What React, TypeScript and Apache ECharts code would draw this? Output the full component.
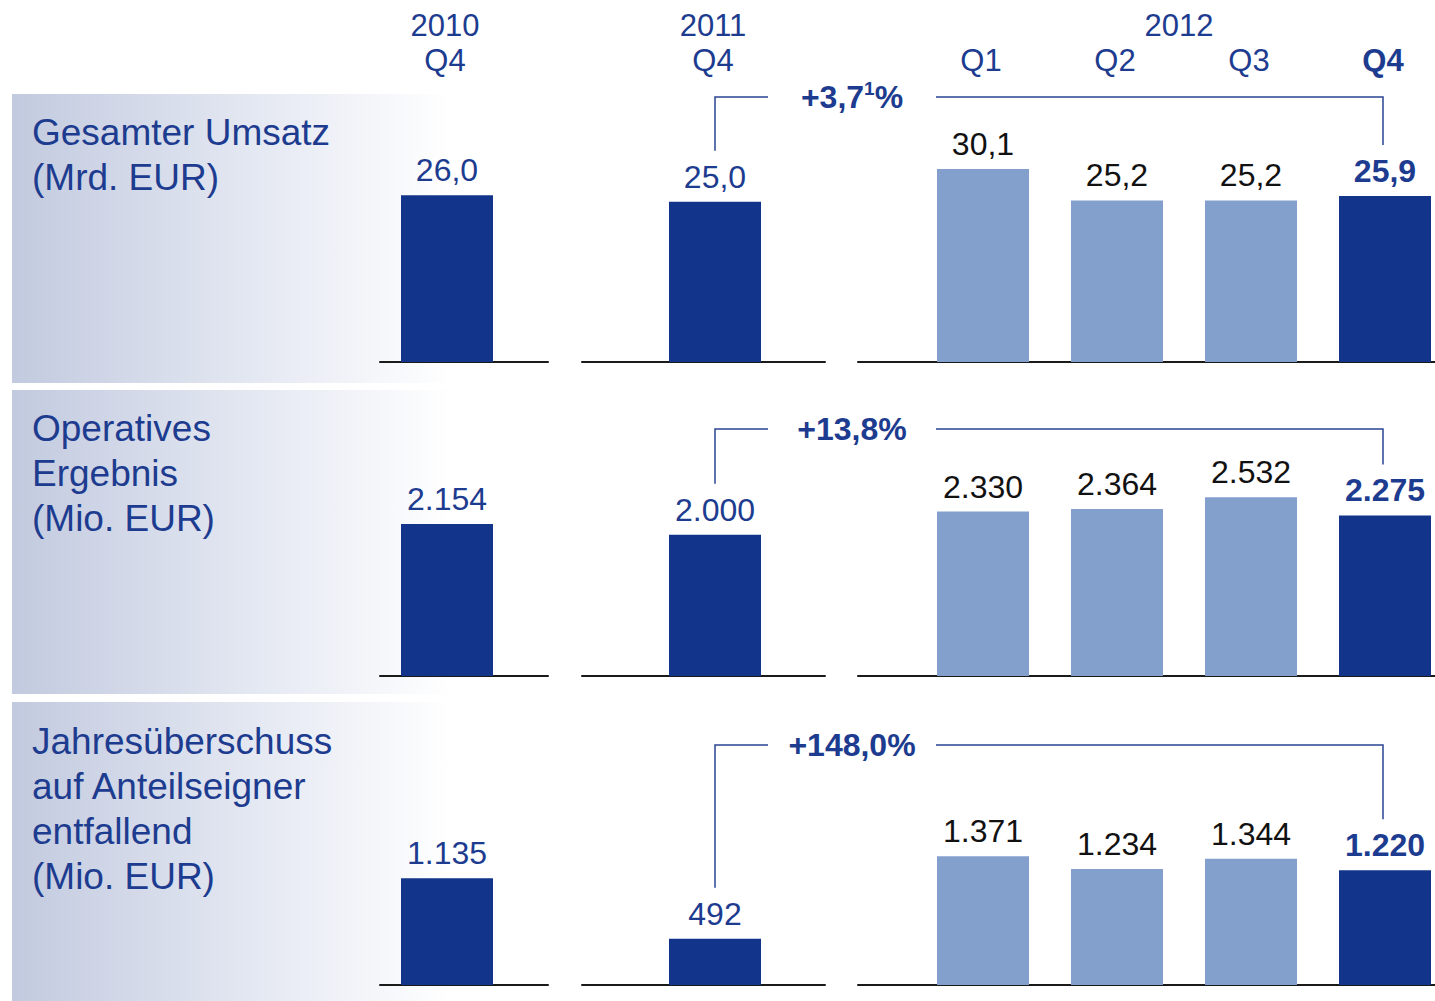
import React, { useEffect, useRef } from 'react';
import * as echarts from 'echarts';

// ---- data ----
const categories = ['2010 Q4', 'gap1', '2011 Q4', 'gap2', '2012 Q1', '2012 Q2', '2012 Q3', '2012 Q4'];
const headerLabels = ['2010\nQ4', '', '2011\nQ4', '', 'Q1', 'Q2', 'Q3', '{b|Q4}'];
const yearGroupLabel = '2012';
const umsatz = [26.0, null, 25.0, null, 30.1, 25.2, 25.2, 25.9];
const ergebnis = [2154, null, 2000, null, 2330, 2364, 2532, 2275];
const ueberschuss = [1135, null, 492, null, 1371, 1234, 1344, 1220];
const barKinds = ['prior', '', 'prior', '', 'quarter', 'quarter', 'quarter', 'current'];
const rowTitles = [
  'Gesamter Umsatz\n(Mrd. EUR)',
  'Operatives\nErgebnis\n(Mio. EUR)',
  'Jahresüberschuss\nauf Anteilseigner\nentfallend\n(Mio. EUR)',
];
const changeLabels = ['+3,7{sup|1}%', '+13,8%', '+148,0%'];
const rowValues = [umsatz, ergebnis, ueberschuss];

// ---- styling / layout ----
const FONT = '"Liberation Sans", Arial, Helvetica, sans-serif';
const DARK = '#12348a';
const LIGHT = '#839fcc';
const TEXT_BLUE = '#1d3c8f';
const LINE_BLUE = '#2a4592';
const W = 1435;
const H = 1001;
const GRID_LEFT = 380;
const SLOT = 134; // px per category slot
const X_MIN = -0.5;
const X_MAX = X_MIN + (W - GRID_LEFT) / SLOT;

const rowLayout = [
  { max: 35, top: 137.6, height: 224.4, panelY: 94, panelH: 289, titleTop: 109.5, bracketY: 97 },
  { max: 3000, top: 464.2, height: 211.8, panelY: 390, panelH: 304, titleTop: 405.5, bracketY: 429 },
  { max: 1500, top: 844, height: 141, panelY: 702, panelH: 299, titleTop: 718.5, bracketY: 745 },
];
const baselineSegments = [
  [380, 548],
  [582, 825],
  [858, 1435],
];

const fmtValue = (row: number, v: number) =>
  row === 0
    ? v.toFixed(1).replace('.', ',')
    : String(v).replace(/\B(?=(\d{3})+(?!\d))/g, '.');

const labelFor = (kind: string) => {
  if (kind === 'quarter') return { color: '#111111', fontWeight: 'normal' };
  if (kind === 'current') return { color: TEXT_BLUE, fontWeight: 'bold' };
  return { color: TEXT_BLUE, fontWeight: 'normal' };
};

export default function App() {
  const ref = useRef<HTMLDivElement>(null);

  useEffect(() => {
    if (!ref.current) return;
    const chart = echarts.init(ref.current, undefined, { renderer: 'svg' });

    const grids: any[] = [];
    const xAxes: any[] = [];
    const yAxes: any[] = [];
    const series: any[] = [];

    // main grids (bars), one slot per category
    rowLayout.forEach((r, i) => {
      grids.push({ left: GRID_LEFT, right: 0, top: r.top, height: r.height });
      xAxes.push({ type: 'value', gridIndex: i, min: X_MIN, max: X_MAX, show: false });
      yAxes.push({ type: 'value', gridIndex: i, min: 0, max: r.max, show: false });
      series.push({
        type: 'bar',
        name: 'row' + i,
        xAxisIndex: i,
        yAxisIndex: i,
        barWidth: 92,
        z: 3,
        data: rowValues[i]
          .map((v, k) =>
            v == null
              ? null
              : {
                  name: categories[k],
                  value: [k, v],
                  itemStyle: { color: barKinds[k] === 'quarter' ? LIGHT : DARK },
                  label: {
                    show: true,
                    position: 'top',
                    distance: 9,
                    fontFamily: FONT,
                    fontSize: 32,
                    lineHeight: 32,
                    ...labelFor(barKinds[k]),
                    formatter: () => fmtValue(i, v),
                  },
                }
          )
          .filter((d) => d !== null),
      });
    });

    // baseline grids
    rowLayout.forEach((r) => {
      baselineSegments.forEach(([x0, x1]) => {
        const gi = grids.length;
        grids.push({ left: x0, right: W - x1, top: r.top + r.height - 10, height: 10 });
        xAxes.push({
          type: 'category',
          gridIndex: gi,
          data: [''],
          axisLine: { show: true, lineStyle: { color: '#1a1a1a', width: 2 } },
          axisTick: { show: false },
          axisLabel: { show: false },
        });
        yAxes.push({ type: 'value', gridIndex: gi, show: false, min: 0, max: 1 });
      });
    });

    chart.setOption({
      animation: false,
      backgroundColor: '#ffffff',
      grid: grids,
      xAxis: xAxes,
      yAxis: yAxes,
      series,
    });

    const px = (row: number, k: number, v: number) =>
      chart.convertToPixel({ xAxisIndex: row, yAxisIndex: row } as any, [k, v]) as number[];

    const graphic: any[] = [];

    // column headers
    headerLabels.forEach((lab, k) => {
      if (!lab) return;
      const p = px(0, k, 0);
      graphic.push({
        type: 'text',
        z: 5,
        x: p[0] - 2,
        y: 78,
        style: {
          text: lab,
          fontFamily: FONT,
          fontSize: 31,
          lineHeight: 35,
          fill: TEXT_BLUE,
          align: 'center',
          verticalAlign: 'bottom',
          rich: {
            b: { fontFamily: FONT, fontSize: 31, lineHeight: 35, fontWeight: 'bold', fill: TEXT_BLUE },
          },
        },
      });
    });
    const pQ2 = px(0, 5, 0);
    const pQ3 = px(0, 6, 0);
    graphic.push({
      type: 'text',
      z: 5,
      x: (pQ2[0] + pQ3[0]) / 2 - 5,
      y: 25,
      style: {
        text: yearGroupLabel,
        fontFamily: FONT,
        fontSize: 31,
        fill: TEXT_BLUE,
        align: 'center',
        verticalAlign: 'middle',
      },
    });

    rowLayout.forEach((r, i) => {
      graphic.push({
        type: 'rect',
        z: -10,
        shape: { x: 12, y: r.panelY, width: 440, height: r.panelH },
        style: {
          fill: new echarts.graphic.LinearGradient(0, 0, 1, 0, [
            { offset: 0, color: '#c2cadf' },
            { offset: 0.55, color: '#e4e8f2' },
            { offset: 1, color: '#ffffff' },
          ]),
        },
      });
      graphic.push({
        type: 'text',
        z: 5,
        x: 32,
        y: r.titleTop,
        style: {
          text: rowTitles[i],
          fontFamily: FONT,
          fontSize: 37,
          lineHeight: 45,
          fill: TEXT_BLUE,
          verticalAlign: 'top',
          align: 'left',
        },
      });

      // bracket from 2011 Q4 to 2012 Q4
      const leftIdx = 2;
      const rightIdx = 7;
      const pL = px(i, leftIdx, rowValues[i][leftIdx] as number);
      const pR = px(i, rightIdx, rowValues[i][rightIdx] as number);
      const pM = px(i, 3, 0);
      const cx = pM[0] + 3;
      const by = r.bracketY;
      const half = 84;
      graphic.push({
        type: 'polyline',
        z: 5,
        shape: { points: [[pL[0], pL[1] - 51], [pL[0], by], [cx - half, by]] },
        style: { stroke: LINE_BLUE, lineWidth: 1.5, fill: null },
      });
      graphic.push({
        type: 'polyline',
        z: 5,
        shape: { points: [[cx + half, by], [pR[0] - 2, by], [pR[0] - 2, pR[1] - 51]] },
        style: { stroke: LINE_BLUE, lineWidth: 1.5, fill: null },
      });
      graphic.push({
        type: 'text',
        z: 5,
        x: cx,
        y: by,
        style: {
          text: changeLabels[i],
          fontFamily: FONT,
          fontSize: 32,
          fontWeight: 'bold',
          lineHeight: 36,
          fill: TEXT_BLUE,
          align: 'center',
          verticalAlign: 'middle',
          rich: {
            sup: {
              fontFamily: FONT,
              fontSize: 19,
              fontWeight: 'bold',
              fill: TEXT_BLUE,
              lineHeight: 36,
              verticalAlign: 'top',
              padding: [0, 0, 12, 0],
            },
          },
        },
      });
    });

    chart.setOption({ graphic });

    return () => chart.dispose();
  }, []);

  return (
    <div
      ref={ref}
      style={{ position: 'absolute', left: 0, top: 0, width: W, height: H, background: '#fff' }}
    />
  );
}
